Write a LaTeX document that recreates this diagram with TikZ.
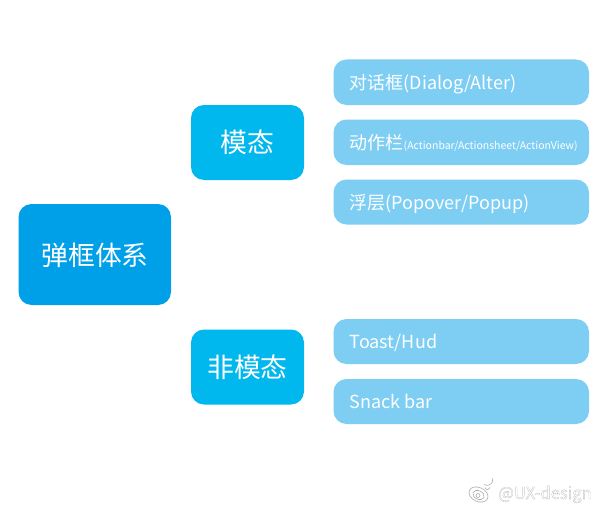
\documentclass[tikz,border=0pt]{standalone}
\usepackage{fontspec}
\setmainfont{Noto Sans CJK SC}
\newfontfamily\wmfont[FakeBold=0.7]{Noto Sans CJK SC}
\definecolor{mainblue}{HTML}{00A0E9}
\definecolor{midblue}{HTML}{00B7EE}
\definecolor{lightblue}{HTML}{7ECEF4}
\tikzset{x=1pt,y=-1pt,
  rbox/.style={rounded corners=13pt,inner sep=0pt,draw=none},
  boxlabel/.style={text=white,inner sep=0pt,anchor=base west},
  leaflabel/.style={boxlabel,font=\fontsize{18}{20}\selectfont},
  bigbox/.style={text=white,inner sep=0pt,font=\fontsize{26.8}{30}\selectfont},
  wmark/.style={inner sep=0pt,anchor=base west,font=\wmfont\fontsize{16.6}{18}\selectfont},
}
\begin{document}
\begin{tikzpicture}
\useasboundingbox (0,0) rectangle (600,511);
\fill[white] (0,0) rectangle (600,511);
% main
\fill[rbox,mainblue] (18.5,204) rectangle (171,305);
\node[bigbox] (root) at (95,255) {弹框体系};
\fill[rbox,midblue] (191,105) rectangle (304,180);
\node[bigbox] (modal) at (247.5,142.5) {模态};
\fill[rbox,midblue] (191,329.5) rectangle (304,404.5);
\node[bigbox] (nonmodal) at (247.5,367.5) {非模态};
% leaves
\fill[rbox,lightblue] (333.5,59.5) rectangle (589,105);
\fill[rbox,lightblue] (333.5,119.5) rectangle (589,165);
\fill[rbox,lightblue] (333.5,179.5) rectangle (589,224.5);
\fill[rbox,lightblue] (333.5,319) rectangle (589,364);
\fill[rbox,lightblue] (333.5,379) rectangle (589,424);
\node[leaflabel] (l1) at (349.5,89) {对话框(Dialog/Alter)};
\node[leaflabel] (l2) at (349.5,149) {动作栏{\fontsize{10.5}{12}\selectfont (Actionbar/Actionsheet/ActionView)}};
\node[leaflabel] (l3) at (349.5,209) {浮层(Popover/Popup)};
\node[leaflabel] (l4) at (349.5,348) {Toast/Hud};
\node[leaflabel] (l5) at (349.5,408) {Snack bar};
% watermark
\begin{scope}[gray!70,line width=0.55pt]
\draw (478.5,494.5) ellipse[x radius=10,y radius=7,rotate=-25];
\draw (478.5,495) ellipse[x radius=6,y radius=4.2,rotate=-25];
\draw (478,495.5) circle[radius=2];
\draw (485,487.5) arc[start angle=170,end angle=10,radius=2.5];
\draw (484,484.5) arc[start angle=120,end angle=-10,radius=6];
\end{scope}
\node[wmark,text=white] (wm) at (498,499) {\special{pdf:code 0.62 G}@UX-design};
\end{tikzpicture}
\end{document}
